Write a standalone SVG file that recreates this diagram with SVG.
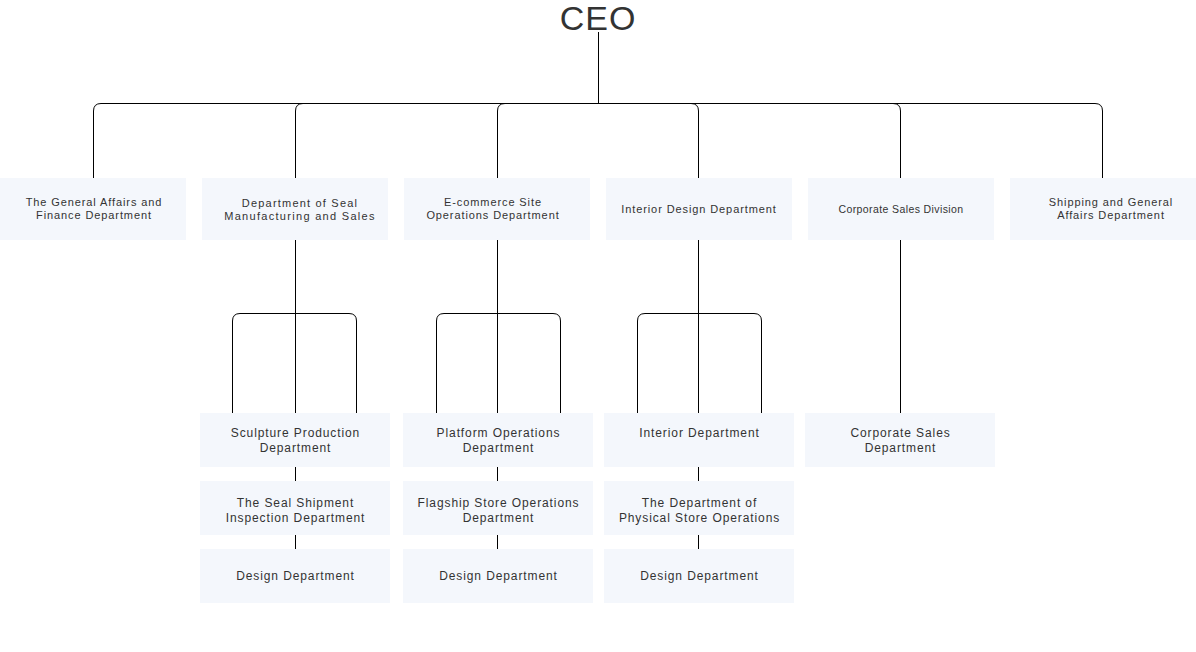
<svg xmlns="http://www.w3.org/2000/svg" width="1196" height="652" viewBox="0 0 1196 652">
<style>
.bx{fill:#f4f7fc}
.t{font-family:"Liberation Sans",Arial,sans-serif;font-size:11px;letter-spacing:0.9px;fill:#333;text-anchor:middle}
.s{font-family:"Liberation Sans",Arial,sans-serif;font-size:12px;letter-spacing:0.9px;fill:#333;text-anchor:middle}
.ln{fill:none;stroke:#000;stroke-width:1}
</style>
<rect width="1196" height="652" fill="#fff"/>
<g id="connectors" class="ln">
<path d="M598.5,32 V103.5"/>
<path d="M101,103.5 H1095 Q1102.5,103.5 1102.5,111 V178"/>
<path d="M101,103.5 Q93.5,103.5 93.5,111 V178"/>
<path d="M303,103.5 Q295.5,103.5 295.5,111 V178"/>
<path d="M505,103.5 Q497.5,103.5 497.5,111 V178"/>
<path d="M691,103.5 Q698.5,103.5 698.5,111 V178"/>
<path d="M893,103.5 Q900.5,103.5 900.5,111 V178"/>
<path d="M295.5,240 V413 M232.5,413 V321 Q232.5,313.5 240,313.5 H349 Q356.5,313.5 356.5,321 V413"/>
<path d="M497.5,240 V413 M436.5,413 V321 Q436.5,313.5 444,313.5 H553 Q560.5,313.5 560.5,321 V413"/>
<path d="M698.5,240 V413 M637.5,413 V321 Q637.5,313.5 645,313.5 H754 Q761.5,313.5 761.5,321 V413"/>
<path d="M900.5,240 V413"/>
<path d="M295.5,467 V481 M295.5,535 V549"/>
<path d="M497.5,467 V481 M497.5,535 V549"/>
<path d="M698.5,467 V481 M698.5,535 V549"/>
</g>
<g id="ceo"><text x="598" y="30" font-family="Liberation Sans,Arial,sans-serif" font-size="34" letter-spacing="1" fill="#333" text-anchor="middle">CEO</text></g>
<g id="n1"><rect class="bx" x="0" y="178" width="186" height="62"/><text class="t" x="94" y="206">The General Affairs and</text><text class="t" x="94" y="218.5">Finance Department</text></g>
<g id="n2"><rect class="bx" x="202" y="178" width="186" height="62"/><text class="t" x="300" y="206.5" style="letter-spacing:1.2px">Department of Seal</text><text class="t" x="300" y="220" style="letter-spacing:1.3px">Manufacturing and Sales</text></g>
<g id="n3"><rect class="bx" x="404" y="178" width="186" height="62"/><text class="t" x="493" y="206">E-commerce Site</text><text class="t" x="493" y="218.5">Operations Department</text></g>
<g id="n4"><rect class="bx" x="606" y="178" width="186" height="62"/><text class="t" x="699" y="213">Interior Design Department</text></g>
<g id="n5"><rect class="bx" x="808" y="178" width="186" height="62"/><text class="t" x="901" y="212.5" style="font-size:10.5px;letter-spacing:0.4px">Corporate Sales Division</text></g>
<g id="n6"><rect class="bx" x="1010" y="178" width="186" height="62"/><text class="t" x="1111" y="206">Shipping and General</text><text class="t" x="1111" y="218.5">Affairs Department</text></g>
<g id="n7"><rect class="bx" x="200" y="413" width="190" height="54"/><text class="s" x="295.5" y="437">Sculpture Production</text><text class="s" x="295.5" y="451.5">Department</text></g>
<g id="n8"><rect class="bx" x="200" y="481" width="190" height="54"/><text class="s" x="295.5" y="507">The Seal Shipment</text><text class="s" x="295.5" y="521.5">Inspection Department</text></g>
<g id="n9"><rect class="bx" x="200" y="549" width="190" height="54"/><text class="s" x="295.5" y="580">Design Department</text></g>
<g id="n10"><rect class="bx" x="403" y="413" width="190" height="54"/><text class="s" x="498.5" y="437">Platform Operations</text><text class="s" x="498.5" y="451.5">Department</text></g>
<g id="n11"><rect class="bx" x="403" y="481" width="190" height="54"/><text class="s" x="498.5" y="507">Flagship Store Operations</text><text class="s" x="498.5" y="521.5">Department</text></g>
<g id="n12"><rect class="bx" x="403" y="549" width="190" height="54"/><text class="s" x="498.5" y="580">Design Department</text></g>
<g id="n13"><rect class="bx" x="604" y="413" width="190" height="54"/><text class="s" x="699.5" y="437">Interior Department</text></g>
<g id="n14"><rect class="bx" x="604" y="481" width="190" height="54"/><text class="s" x="699.5" y="507">The Department of</text><text class="s" x="699.5" y="521.5">Physical Store Operations</text></g>
<g id="n15"><rect class="bx" x="604" y="549" width="190" height="54"/><text class="s" x="699.5" y="580">Design Department</text></g>
<g id="n16"><rect class="bx" x="805" y="413" width="190" height="54"/><text class="s" x="900.5" y="437">Corporate Sales</text><text class="s" x="900.5" y="451.5">Department</text></g>
</svg>
